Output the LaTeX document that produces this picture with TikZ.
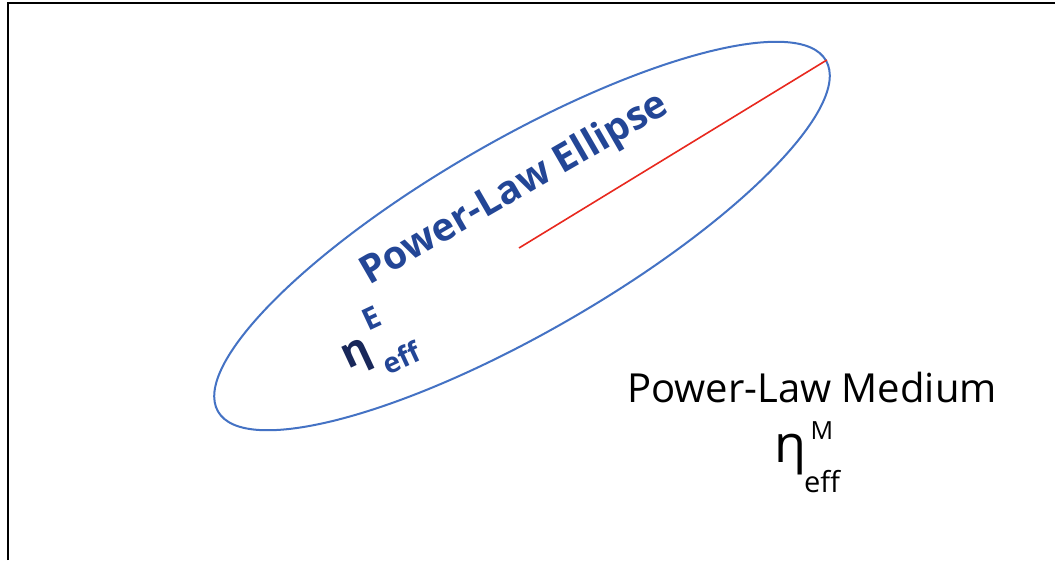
\documentclass[tikz,border=0pt]{standalone}
\usepackage{fontspec}
\setmainfont{Open Sans}
\usetikzlibrary{shapes.geometric}
\definecolor{ellblue}{RGB}{68,114,196}
\definecolor{lblblue}{RGB}{35,70,150}
\definecolor{etadark}{RGB}{25,40,90}
\definecolor{redline}{RGB}{232,40,30}
\tikzset{
  txt/.style={inner sep=0pt, outer sep=0pt},
  elltxt/.style={txt, text=lblblue, font=\bfseries\fontsize{#1}{#1}\selectfont},
  medtxt/.style={txt, text=black, font=\fontsize{#1}{#1}\selectfont},
  ellshape/.style={draw=ellblue, line width=2pt, ellipse, inner sep=0pt,
    minimum width=702pt, minimum height=192pt},
  axisline/.style={draw=redline, line width=1.6pt}
}
\begin{document}
\begin{tikzpicture}[x=1pt,y=-1pt]
\useasboundingbox (0,0) rectangle (1055,560);
\fill[white] (0,0) rectangle (1055,560);
\draw[line width=2.4pt] (8,560) -- (8,3) -- (1055,3);
% ellipse
\node[ellshape, rotate=30] (ell) at (522,236) {};
\coordinate (rs) at (519,248);
\draw[axisline] (rs) -- (ell.east);
% ellipse labels
\node[elltxt=39, rotate=30] (elab) at (515,190) {Power-Law Ellipse};
\node[txt, text=etadark, font=\bfseries\fontsize{42}{42}\selectfont, rotate=25] (etaE) at (358,358) {η};
\node[elltxt=30, rotate=25] (supE) at (372,318) {E};
\node[elltxt=28, rotate=25] (subE) at (401,358) {eff};
% medium labels
\node[medtxt=40, anchor=base] (mlab) at (812,402) {Power-Law Medium};
\node[medtxt=52] (etaM) at (790,455) {η};
\node[medtxt=25] (supM) at (822,431) {M};
\node[medtxt=29] (subM) at (822,482) {eff};
\end{tikzpicture}
\end{document}
